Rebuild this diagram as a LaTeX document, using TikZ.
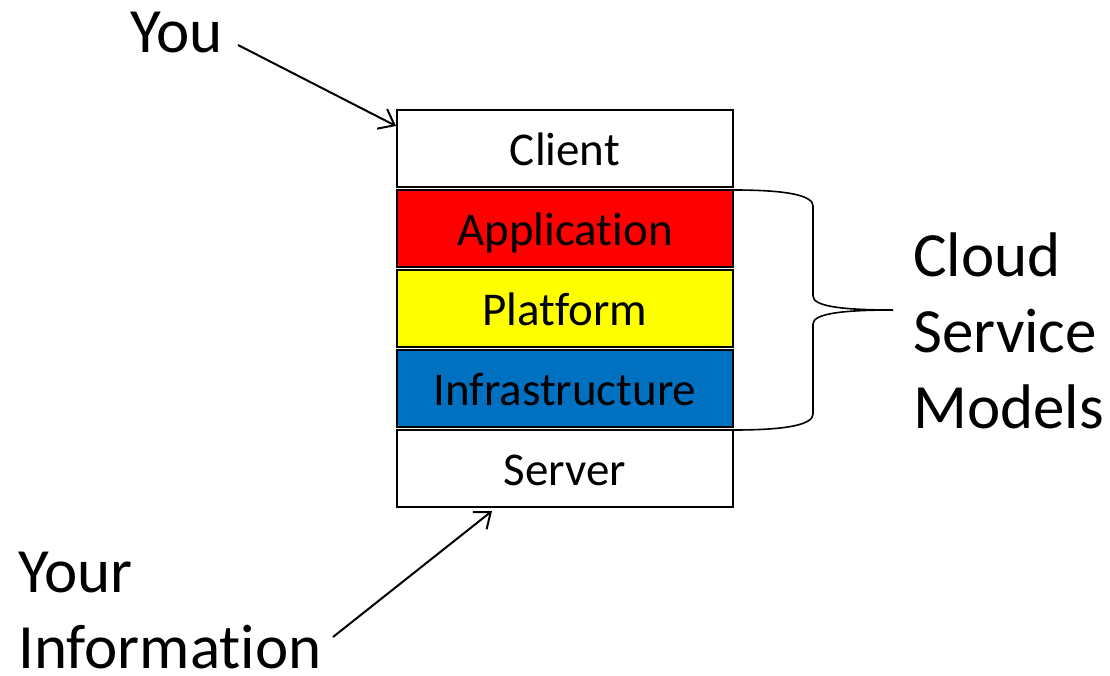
\documentclass[tikz,border=0pt]{standalone}
\usepackage{fontspec}
\setmainfont{Carlito}[Ligatures=NoCommon]
\usetikzlibrary{arrows.meta}
\definecolor{appred}{RGB}{255,0,0}
\definecolor{platyellow}{RGB}{255,255,0}
\definecolor{infblue}{RGB}{0,112,192}
\begin{document}
\begin{tikzpicture}[x=1pt,y=-1pt,
  layer/.style={draw=black,line width=2.8pt,minimum width=336pt,minimum height=77pt,
    inner sep=0pt,text height=34pt,text depth=0pt,font=\fontsize{47}{56}\selectfont},
  bigtext/.style={inner sep=0pt,font=\fontsize{63}{76}\selectfont},
  pointer/.style={line width=2pt,-{Straight Barb[length=14pt,width=22pt]}},
  brace/.style={line width=1.6pt}]
\useasboundingbox (0,0) rectangle (1110,676);

% stack of layers
\node[layer,fill=white]       (client) at (565,148.5) {Client};
\node[layer,fill=appred]      (app)    at (565,228.5) {Application};
\node[layer,fill=platyellow]  (plat)   at (565,308.5) {Platform};
\node[layer,fill=infblue]     (infra)  at (565,388.5) {Infrastructure};
\node[layer,fill=white]       (server) at (565,468.5) {Server};

% labels
\node[bigtext,anchor=base west] (you) at (130,53) {You};
\node[bigtext,anchor=west,align=left] (csm) at (913,331) {Cloud\\Service\\Models};
\node[bigtext,anchor=west,align=left] (info) at (18,611) {Your\\Information};

% arrows
\coordinate (youtail) at (238,45);
\coordinate (youhead) at (396,126);
\coordinate (infotail) at (333,637);
\coordinate (infohead) at (492,511);
\draw[pointer] (youtail) -- (youhead);
\draw[pointer] (infotail) -- (infohead);

% brace grouping the service models
\coordinate (btop) at (734,190);
\coordinate (bbot) at (734,430);
\coordinate (btip) at (893,310);
\draw[brace] (btop) .. controls (790,190) and (813,196) .. (813,206)
  -- (813,296) .. controls (813,306) and (840,310) .. (btip)
  .. controls (840,310) and (813,314) .. (813,324)
  -- (813,414) .. controls (813,424) and (790,430) .. (bbot);
\end{tikzpicture}
\end{document}
